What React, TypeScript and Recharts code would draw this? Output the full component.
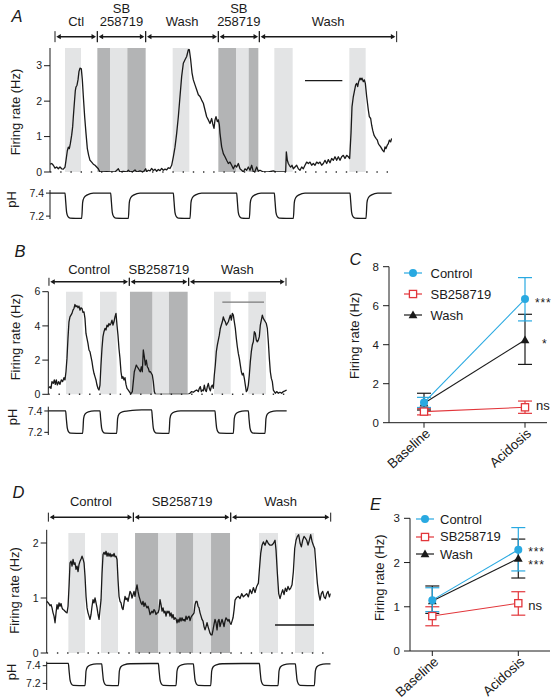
import React from 'react';
import {
  LineChart, Line, XAxis, YAxis, ReferenceArea, ReferenceLine, ErrorBar, LabelList, Legend, Label,
} from 'recharts';

const FONT = '"Liberation Sans", Arial, Helvetica, sans-serif';
const INK = '#1a1a1a';
const LIGHT = '#e3e4e5';
const DARK = '#b3b4b5';
const BLUE = '#29a9e1';
const RED = '#e2363b';

// ---------- Panel A (time in s, firing rate in Hz) ----------
const aRate: [number, number][] = [
  [0,0.22],[5,0.24],[10,0.19],[15,0.11],[20,0.14],[25,0.09],[30,0.14],[35,0.09],[40,0.08],[45,0.14],
  [48,0.33],[52,0.6],[55,0.7],[58,0.66],[61,0.8],[65,1.04],[68,1.28],[70,1.56],[73,1.94],[76,2.3],[78,2.4],[81,2.45],[84,2.6],[87,2.84],[90,2.93],[94,2.91],[97,2.6],[100,2.13],[104,1.56],[108,1.09],[112,0.66],[116,0.47],[120,0.33],[125,0.28],[130,0.22],[135,0.19],[140,0.14],[145,0.09],[148,0.03],[150,0],
  [160,0],[170,0.01],[180,0],[195,0],[205,0.09],[210,0],[220,0.02],[230,0],[235,0.05],[240,0],[250,0.02],[255,0.06],[260,0],[270,0.03],[280,0],[287,0.09],[290,0.01],
  [295,0.05],[300,0.03],[305,0.1],[310,0.04],[315,0.08],[320,0.02],[325,0.07],[330,0.04],[335,0.1],[340,0.05],[345,0.08],[350,0.06],[355,0.12],[360,0.1],
  [365,0.19],[370,0.43],[375,0.7],[380,1.09],[385,1.56],[390,2.13],[395,2.7],[400,3.07],[405,3.17],[410,3.26],[415,3.45],[418,3.45],[422,3.17],[426,2.8],[430,2.6],[435,2.46],[440,2.32],[445,2.18],[450,2.13],[455,2.03],[460,1.94],[465,1.75],[470,1.56],[475,1.47],[480,1.37],[485,1.51],[488,1.37],[492,1.23],[495,1.47],[498,1.56],[502,1.42],[505,1.47],[508,1.33],[510,1.09],[515,0.71],[520,0.52],[525,0.43],[530,0.33],[535,0.24],[540,0.28],[545,0.19],[550,0.09],[555,0.19],[560,0.14],[565,0.24],[570,0.09],[575,0.05],[580,0],[585,0.09],[590,0.05],[595,0.14],[600,0.05],[605,0.19],[610,0],[615,0.02],[620,0.14],[625,0.02],[630,0.05],
  [640,0],[655,0],[670,0.03],[680,0],[707,0],[709,0.57],[712,0.33],[715,0.24],[718,0.19],[722,0.14],[726,0.19],[730,0.09],[735,0.14],[740,0.19],[745,0.09],[750,0.05],[755,0.14],[760,0.09],[765,0.19],[770,0.28],[775,0.24],[780,0.28],[785,0.19],[790,0.24],[795,0.19],[800,0.28],[805,0.24],[810,0.28],[815,0.19],[820,0.24],[825,0.33],[830,0.24],[835,0.35],[840,0.26],[845,0.38],[850,0.33],[855,0.43],[860,0.33],[865,0.43],[870,0.33],[875,0.43],[880,0.47],[885,0.38],[890,0.47],[895,0.43],[899,0.38],
  [903,1.09],[906,1.84],[910,2.13],[913,2.27],[917,2.46],[920,2.5],[923,2.41],[926,2.55],[930,2.65],[933,2.6],[936,2.65],[940,2.55],[943,2.6],[946,2.5],[950,2.13],[955,1.75],[958,1.56],[962,1.51],[965,1.32],[968,1.18],[972,1.04],[975,0.99],[978,0.95],[982,0.9],[985,0.8],[988,0.76],[992,0.71],[995,0.66],[998,0.61],[1002,0.57],[1005,0.71],[1008,0.66],[1012,0.76],[1015,0.8],[1018,0.9],[1022,0.85],[1025,0.95],
];
const aPH: [number, number][] = [
  [0,7.40],[45,7.40],[47,7.33],[50,7.23],[54,7.195],[60,7.183],[95,7.18],[98,7.32],[102,7.36],[112,7.385],[130,7.40],
  [182,7.40],[184,7.33],[187,7.23],[191,7.195],[197,7.183],[235,7.18],[238,7.32],[242,7.36],[252,7.385],[270,7.40],
  [370,7.40],[372,7.33],[375,7.23],[379,7.195],[385,7.183],[420,7.18],[423,7.32],[427,7.36],[437,7.385],[455,7.40],
  [560,7.40],[562,7.33],[565,7.23],[569,7.195],[575,7.183],[598,7.18],[601,7.32],[605,7.36],[615,7.385],[633,7.40],
  [673,7.40],[675,7.33],[678,7.23],[682,7.195],[688,7.183],[730,7.18],[733,7.32],[737,7.36],[747,7.385],[765,7.40],
  [900,7.40],[902,7.33],[905,7.23],[909,7.195],[915,7.183],[948,7.18],[951,7.32],[955,7.36],[965,7.385],[983,7.40],[1025,7.40],
];
const aLight: [number, number][] = [[45,93],[180,232],[368,418],[558,596],[673,728],[898,947]];
const aDark: [number, number][] = [[142,180],[232,287],[505,558],[596,625]];
const aBounds = [15, 142, 287, 505, 628, 1040];
const aLabels = [['Ctl'], ['SB', '258719'], ['Wash'], ['SB', '258719'], ['Wash']];
const aScaleBar = [765, 877];

// ---------- Panel B ----------
const bRate: [number, number][] = [
  [0,0.35],[5,0.45],[8,0.35],[11,0.74],[15,0.64],[18,0.84],[21,0.58],[24,0.84],[27,0.55],[31,0.74],[35,0.58],[39,0.84],[43,0.74],[47,0.97],[50,0.84],[53,1.32],[56,2.1],[59,3.27],[62,4.24],[65,4.53],[68,4.63],[71,4.73],[74,4.92],[77,5.02],[80,5.25],[83,5.12],[86,5.18],[89,5.06],[92,5.16],[95,4.92],[98,5.06],[101,5.02],[104,4.79],[107,4.82],[110,4.44],[113,3.56],[116,3.27],[119,2.98],[122,2.59],[125,2.49],[128,2.2],[131,1.91],[134,1.52],[137,1.23],[140,1.03],[143,0.84],[146,0.54],[149,0.35],[152,0.25],
  [155,0.54],[158,1.71],[161,2.68],[164,3.37],[167,3.66],[170,3.85],[173,3.76],[176,4.05],[179,3.95],[182,4.14],[185,4.05],[188,4.14],[191,4.34],[194,4.05],[197,4.24],[200,4.53],[203,4.73],[206,4.05],[209,3.46],[212,2.68],[215,2.1],[218,1.32],[221,0.93],[224,1.03],[227,0.84],[230,0.97],[233,0.58],[236,0.35],[240,0.25],[243,0.16],[246,0.06],[249,0.06],[252,0.16],
  [255,0.74],[258,1.32],[261,1.52],[264,1.71],[267,1.61],[270,1.52],[273,1.42],[276,1.32],[279,1.61],[282,1.32],[285,2.59],[288,2.2],[291,1.71],[294,2.0],[297,1.61],[300,1.52],[303,1.32],[306,1.32],[309,1.23],[312,1.13],[315,0.74],[318,0.16],[321,0],[420,0],
  [425,0.06],[430,0.16],[435,0.12],[440,0.2],[445,0.25],[450,0.16],[453,0.35],[456,0.45],[459,0.16],[462,0.25],[465,0.2],[468,0.54],[471,0.25],[474,0.16],[477,0.45],[480,0.64],[483,0.35],[486,0.2],[489,0.45],[492,0.54],[495,0.35],
  [498,1.13],[501,1.71],[504,2.49],[507,2.88],[510,3.17],[513,3.46],[516,3.85],[519,4.05],[522,4.24],[525,4.53],[528,4.34],[531,4.24],[534,4.05],[537,4.14],[540,4.24],[543,4.44],[546,4.63],[549,4.34],[552,4.73],[555,4.63],[558,4.24],[561,3.85],[564,3.27],[567,2.78],[570,2.39],[573,2.1],[576,1.71],[579,1.32],[582,1.13],[585,1.23],[588,0.93],[591,0.54],[594,0.16],
  [597,0.25],[600,0.54],[603,1.13],[606,1.91],[609,2.49],[612,2.88],[615,3.07],[618,3.66],[621,3.56],[624,3.17],[627,3.07],[630,3.17],[633,3.37],[636,4.05],[639,4.34],[642,4.63],[645,4.44],[648,4.34],[651,4.24],[654,4.14],[657,3.85],[660,3.07],[663,2.1],[666,1.32],[669,0.93],[672,0.74],[675,0.25],[678,0.16],[681,0.06],[685,0.16],[690,0.06],[695,0.12],[700,0.06],[705,0.16],[710,0.2],[715,0.25],
];
const bPH: [number, number][] = [
  [0,7.40],[52,7.40],[54,7.33],[57,7.24],[61,7.205],[67,7.192],[103,7.19],[106,7.33],[110,7.37],[120,7.392],[138,7.40],
  [155,7.40],[157,7.33],[160,7.24],[164,7.205],[170,7.192],[205,7.19],[208,7.33],[212,7.37],[222,7.392],[240,7.40],[280,7.41],
  [310,7.41],[312,7.34],[315,7.24],[319,7.205],[325,7.192],[362,7.19],[365,7.33],[369,7.37],[379,7.392],[397,7.40],
  [500,7.40],[502,7.33],[505,7.24],[509,7.205],[515,7.192],[555,7.19],[558,7.33],[562,7.37],[572,7.392],[590,7.40],
  [600,7.40],[602,7.33],[605,7.24],[609,7.205],[615,7.192],[650,7.19],[653,7.33],[657,7.37],[667,7.392],[685,7.40],[715,7.40],
];
const bLight: [number, number][] = [[53,103],[155,205],[312,362],[497,547],[600,653]];
const bDark: [number, number][] = [[245,312],[362,418]];
const bBounds = [2, 243, 421, 713];
const bLabels = [['Control'], ['SB258719'], ['Wash']];
const bScaleBar = [522, 647];

// ---------- Panel D ----------
const dRate: [number, number][] = [
  [0,0.94],[5,0.91],[10,0.86],[13,0.88],[16,0.82],[19,0.73],[22,0.67],[25,0.55],[28,0.73],[31,0.88],[34,0.8],[37,0.91],[40,0.85],[43,0.9],[46,0.82],[49,0.79],[52,0.78],[55,0.76],[58,0.74],[61,0.73],
  [64,0.85],[67,1.21],[70,1.64],[73,1.67],[76,1.58],[79,1.7],[82,1.61],[85,1.64],[88,1.52],[91,1.58],[94,1.48],[97,1.61],[100,1.67],[103,1.71],[106,1.76],[109,1.71],[112,1.64],[115,1.39],[118,1.03],[121,0.82],[124,0.73],[127,0.67],[130,0.61],[133,0.7],[136,0.85],[139,0.97],[142,0.91],[145,1.0],[148,0.91],[151,0.82],[154,0.7],[157,0.61],[160,0.79],
  [163,0.97],[166,1.45],[169,1.79],[172,1.83],[175,1.79],[178,1.85],[181,1.76],[184,1.82],[187,1.76],[190,1.81],[193,1.75],[196,1.79],[199,1.76],[202,1.81],[205,1.75],[208,1.76],[211,1.7],[214,1.33],[217,1.03],[220,0.94],[223,0.91],[226,0.82],[229,0.79],[232,0.91],[235,1.03],[238,0.97],[241,1.0],[244,0.94],[247,1.03],[250,1.12],[253,1.09],[256,1.0],[259,1.06],[262,1.12],[265,1.03],[268,1.15],[271,1.24],[274,1.12],[277,1.03],[280,0.97],[283,0.91],[286,0.88],[289,0.94],[292,0.85],[295,0.91],[298,0.86],[301,0.82],[304,0.85],[307,0.79],[310,0.7],[313,0.73],[316,0.76],[319,0.73],[322,0.79],[325,0.76],[328,0.7],[331,0.73],[334,0.73],[337,0.79],[340,0.97],[343,0.88],[346,0.76],[349,0.82],[352,0.73],[355,0.76],[358,0.67],[361,0.76],[364,0.73],[367,0.76],[370,0.67],[373,0.73],[376,0.64],[379,0.7],[382,0.61],[385,0.64],[388,0.62],[391,0.55],[394,0.61],[397,0.56],[400,0.64],[403,0.58],[406,0.64],[409,0.59],[412,0.61],[415,0.58],[418,0.67],[421,0.61],[424,0.65],[427,0.67],[430,0.59],[433,0.65],[436,0.68],[439,0.7],[442,0.73],[445,0.88],[448,0.94],[451,0.94],[454,0.85],[457,0.82],[460,0.73],[463,0.67],[466,0.61],[469,0.58],[472,0.48],[475,0.42],[478,0.48],[481,0.55],[484,0.48],[487,0.42],[490,0.36],[493,0.33],[496,0.33],[499,0.42],[502,0.52],[505,0.61],[508,0.55],[511,0.42],[514,0.58],[517,0.61],[520,0.48],[523,0.55],[526,0.61],[529,0.55],[532,0.48],[535,0.58],[538,0.64],[541,0.61],[544,0.58],[547,0.61],[550,0.55],[553,0.52],[556,0.58],[559,0.64],
  [562,0.78],[565,0.96],[570,1.01],[575,1.03],[580,0.99],[585,1.08],[590,1.02],[595,1.05],[600,1.08],[605,1.02],[610,1.15],[615,1.08],[620,1.19],[625,1.1],[630,1.21],[635,1.27],[638,1.51],[642,1.81],[646,1.96],[650,2.02],[655,1.96],[660,2.05],[665,1.99],[670,1.96],[675,1.96],[680,1.99],[685,2.05],[688,1.87],[692,1.45],[696,1.08],[700,0.99],[704,1.08],[708,1.15],[712,1.06],[716,1.18],[720,1.12],[724,1.21],[728,1.15],[732,1.18],[736,1.24],[740,1.48],[744,1.9],[748,2.05],[752,2.12],[756,2.15],[760,2.0],[764,1.93],[768,2.05],[772,2.12],[776,2.09],[780,2.05],[784,1.96],[788,2.05],[792,2.15],[796,2.03],[800,1.96],[804,1.9],[808,1.57],[812,1.27],[816,1.08],[820,0.96],[824,1.08],[828,1.12],[832,1.02],[836,0.99],[840,1.08],[844,1.12],[848,1.02],[852,1.08],
];
const dPH: [number, number][] = [
  [0,7.425],[65,7.425],[67,7.35],[70,7.24],[74,7.195],[80,7.178],[115,7.175],[118,7.34],[122,7.385],[132,7.41],[150,7.42],[165,7.42],
  [167,7.35],[170,7.24],[174,7.195],[180,7.178],[215,7.175],[218,7.34],[222,7.385],[232,7.41],[250,7.422],[335,7.425],
  [337,7.35],[340,7.24],[344,7.195],[350,7.178],[388,7.175],[391,7.34],[395,7.385],[405,7.41],[423,7.42],[440,7.42],
  [442,7.35],[445,7.24],[449,7.195],[455,7.178],[492,7.175],[495,7.34],[499,7.385],[509,7.41],[527,7.422],[638,7.425],
  [640,7.35],[643,7.24],[647,7.195],[653,7.178],[694,7.175],[697,7.34],[701,7.385],[711,7.41],[729,7.42],[746,7.42],
  [748,7.35],[751,7.24],[755,7.195],[761,7.178],[803,7.175],[806,7.34],[810,7.385],[820,7.41],[838,7.42],[852,7.42],
];
const dLight: [number, number][] = [[65,115],[163,214],[334,388],[439,493],[637,694],[745,802]];
const dDark: [number, number][] = [[265,334],[388,439],[493,550]];
const dBounds = [5, 260, 552, 852];
const dLabels = [['Control'], ['SB258719'], ['Wash']];
const dScaleBar = [685, 802];

// ---------- Panels C and E (mean, [minus, plus] SEM) ----------
const categories = ['Baseline', 'Acidosis'];
const seriesNames = ['Control', 'SB258719', 'Wash'];
const cControl = [1.03, 6.34];
const cControlErr = [[0.25, 0.27], [1.12, 1.1]];
const cSB = [0.57, 0.79];
const cSBErr = [[0.17, 0.15], [0.31, 0.32]];
const cWash = [1.0, 4.24];
const cWashErr = [[0.35, 0.51], [1.25, 1.32]];
const cControlSig = ['', '***'];
const cSBSig = ['', 'ns'];
const cWashSig = ['', '*'];

const eControl = [1.15, 2.29];
const eControlErr = [[0.26, 0.28], [0.48, 0.5]];
const eSB = [0.79, 1.08];
const eSBErr = [[0.22, 0.21], [0.27, 0.26]];
const eWash = [1.13, 2.09];
const eWashErr = [[0.28, 0.34], [0.44, 0.44]];
const eControlSig = ['', '***'];
const eSBSig = ['', 'ns'];
const eWashSig = ['', '***'];

// ---------- helpers ----------
const toRows = (pairs: [number, number][]) => pairs.map(([t, v]) => ({ t, v }));

const vTitle = (text: string, cx: number, dy: number) => (props: any) => {
  const vb = props.viewBox || { x: 0, y: 0, width: 0, height: 0 };
  const x = vb.x + cx;
  const y = vb.y + vb.height / 2 + dy;
  return (
    <text x={x} y={y} transform={`rotate(-90 ${x} ${y})`} textAnchor="middle" dominantBaseline="central"
      fontSize={13} fontFamily={FONT} fill={INK}>{text}</text>
  );
};

const makeBracket = (lines: string[], gap: number, tickH: number) => (p: any) => {
  const { x1, x2, y1 } = p;
  if (x1 == null || x2 == null) return <g />;
  const y = y1;
  const cx = (x1 + x2) / 2;
  const a = 4.5, w = 2.6, inset = 1.3;
  return (
    <g>
      <line x1={x1 + inset + 2} x2={x2 - inset - 2} y1={y} y2={y} stroke={INK} strokeWidth={1.5} />
      <path d={`M${x1 + inset},${y}L${x1 + inset + a},${y - w}L${x1 + inset + a},${y + w}Z M${x2 - inset},${y}L${x2 - inset - a},${y - w}L${x2 - inset - a},${y + w}Z`} fill={INK} />
      <line x1={x1} x2={x1} y1={y - tickH / 2} y2={y + tickH / 2} stroke={INK} strokeWidth={1} />
      <line x1={x2} x2={x2} y1={y - tickH / 2} y2={y + tickH / 2} stroke={INK} strokeWidth={1} />
      {lines.map((s, i) => (
        <text key={i} x={cx} y={y - gap - (lines.length - 1 - i) * 13.5} textAnchor="middle"
          fontSize={13} fontFamily={FONT} fill={INK}>{s}</text>
      ))}
    </g>
  );
};

type TraceProps = {
  left: number; top: number; width: number; height: number;
  margin: { top: number; right: number; bottom: number; left: number };
  yWidth: number; xMax: number; yMax: number; yTicks: number[];
  rate: [number, number][]; light: [number, number][]; dark: [number, number][]; shadeTop: number;
  bounds: number[]; labels: string[][]; bracketY: number; labelGap: number; tickH: number;
  scaleBar: number[]; scaleY: number; scaleColor: string; titleDx: number; titleDy: number;
};

const TracePanel = (p: TraceProps) => (
  <div style={{ position: 'absolute', left: p.left, top: p.top }}>
    <LineChart width={p.width} height={p.height} data={toRows(p.rate)} margin={p.margin}>
      <XAxis type="number" dataKey="t" domain={[0, p.xMax]} hide allowDataOverflow />
      <YAxis type="number" domain={[0, p.yMax]} ticks={p.yTicks} interval={0} width={p.yWidth} allowDataOverflow
        tick={{ fontSize: 10.5, fill: INK, fontFamily: FONT }} tickSize={6}
        axisLine={{ stroke: INK }} tickLine={{ stroke: INK }}>
        <Label content={vTitle('Firing rate (Hz)', p.titleDx, p.titleDy)} />
      </YAxis>
      {p.light.map(([x1, x2], i) => (
        <ReferenceArea key={`l${i}`} x1={x1} x2={x2} y1={0} y2={p.shadeTop} fill={LIGHT} fillOpacity={1} stroke="none" ifOverflow="visible" />
      ))}
      {p.dark.map(([x1, x2], i) => (
        <ReferenceArea key={`d${i}`} x1={x1} x2={x2} y1={0} y2={p.shadeTop} fill={DARK} fillOpacity={1} stroke="none" ifOverflow="visible" />
      ))}
      <ReferenceLine y={0} stroke="#333" strokeWidth={1.6} strokeDasharray="1.4 8.8" />
      {p.labels.map((lab, i) => (
        <ReferenceLine key={`b${i}`} ifOverflow="visible"
          segment={[{ x: p.bounds[i], y: p.bracketY }, { x: p.bounds[i + 1], y: p.bracketY }]}
          shape={makeBracket(lab, p.labelGap, p.tickH)} />
      ))}
      <ReferenceLine ifOverflow="visible" stroke={p.scaleColor} strokeWidth={1.4}
        segment={[{ x: p.scaleBar[0], y: p.scaleY }, { x: p.scaleBar[1], y: p.scaleY }]} />
      <Line type="linear" dataKey="v" stroke={INK} strokeWidth={1.3} dot={false} isAnimationActive={false} strokeLinejoin="round" />
    </LineChart>
  </div>
);

type PHProps = {
  left: number; top: number; width: number; height: number;
  margin: { top: number; right: number; bottom: number; left: number };
  yWidth: number; xMax: number; domain: [number, number]; data: [number, number][]; titleDx: number; titleDy: number;
};

const PHPanel = (p: PHProps) => (
  <div style={{ position: 'absolute', left: p.left, top: p.top }}>
    <LineChart width={p.width} height={p.height} data={toRows(p.data)} margin={p.margin}>
      <XAxis type="number" dataKey="t" domain={[0, p.xMax]} hide allowDataOverflow />
      <YAxis type="number" domain={p.domain} ticks={[7.2, 7.4]} interval={0} width={p.yWidth} allowDataOverflow
        tickFormatter={(v: number) => v.toFixed(1)}
        tick={{ fontSize: 10.5, fill: INK, fontFamily: FONT }} tickSize={4}
        axisLine={{ stroke: INK }} tickLine={{ stroke: INK }}>
        <Label content={vTitle('pH', p.titleDx, p.titleDy)} />
      </YAxis>
      <Line type="monotone" dataKey="v" stroke={INK} strokeWidth={1.3} dot={false} isAnimationActive={false} />
    </LineChart>
  </div>
);

const marker = (i: number, cx: number, cy: number, key?: string) => {
  if (i === 0) return <circle key={key} cx={cx} cy={cy} r={4} fill={BLUE} />;
  if (i === 1) return <rect key={key} x={cx - 3.6} y={cy - 3.6} width={7.2} height={7.2} fill="#fff" stroke={RED} strokeWidth={1.3} />;
  return <path key={key} d={`M${cx},${cy - 4.6}L${cx + 4.4},${cy + 3.2}L${cx - 4.4},${cy + 3.2}Z`} fill={INK} />;
};
const seriesColors = [BLUE, RED, INK];

const dotFn = (i: number) => (p: any) => marker(i, p.cx, p.cy, `m${i}-${p.index}`);

const makeLegend = (rowH: number, gap: number) => () => (
  <div style={{ fontFamily: FONT, fontSize: 13, color: INK }}>
    {seriesNames.map((n, i) => (
      <div key={n} style={{ display: 'flex', alignItems: 'center', height: rowH }}>
        <svg width={18} height={12} style={{ overflow: 'visible' }}>
          <line x1={0} x2={18} y1={6} y2={6} stroke={seriesColors[i]} strokeWidth={1.2} />
          {marker(i, 9, 6)}
        </svg>
        <span style={{ marginLeft: gap }}>{n}</span>
      </div>
    ))}
  </div>
);

const sigLabel = (dx: number, dy: number) => (p: any) => {
  if (!p.value) return null;
  const x = (p.x ?? p.viewBox?.x) + dx;
  const y = (p.y ?? p.viewBox?.y) + dy;
  const txt = String(p.value);
  const star = txt.includes('*');
  return (
    <text x={x} y={y + (star ? 7.5 : 4.5)} fontSize={star ? 12 : 13} letterSpacing={star ? 0.8 : 0}
      fontFamily={FONT} fill={INK}>{txt}</text>
  );
};

const CatTick = (p: any) => {
  const { x, y, payload } = p;
  const tx = x + 7, ty = y + 5;
  return (
    <text x={tx} y={ty} textAnchor="end" transform={`rotate(-42 ${tx} ${ty})`} fontSize={13.5}
      fontFamily={FONT} fill={INK}>{payload.value}</text>
  );
};

type SumProps = {
  left: number; top: number; width: number; height: number;
  margin: { top: number; right: number; bottom: number; left: number };
  yWidth: number; xHeight: number; pad: { left: number; right: number };
  yMax: number; yTicks: number[];
  ctrl: number[]; ctrlErr: number[][]; sb: number[]; sbErr: number[][]; wash: number[]; washErr: number[][];
  ctrlSig: string[]; sbSig: string[]; washSig: string[];
  titleDx: number; titleDy: number; legendPos: { left: number; top: number }; rowH: number; legendGap: number;
  sigDx: number[]; sigDy: number[];
};

const SummaryPanel = (p: SumProps) => {
  const rows = categories.map((c, i) => ({
    cond: c, ctrl: p.ctrl[i], ctrlErr: p.ctrlErr[i], sb: p.sb[i], sbErr: p.sbErr[i],
    wash: p.wash[i], washErr: p.washErr[i], ctrlSig: p.ctrlSig[i], sbSig: p.sbSig[i], washSig: p.washSig[i],
  }));
  return (
    <div style={{ position: 'absolute', left: p.left, top: p.top }}>
      <LineChart width={p.width} height={p.height} data={rows} margin={p.margin}>
        <XAxis dataKey="cond" type="category" padding={p.pad} height={p.xHeight} interval={0}
          tick={<CatTick />} tickSize={5} axisLine={{ stroke: INK }} tickLine={{ stroke: INK }} />
        <YAxis type="number" domain={[0, p.yMax]} ticks={p.yTicks} interval={0} width={p.yWidth}
          tick={{ fontSize: 11.5, fill: INK, fontFamily: FONT }} tickSize={6} tickMargin={4}
          axisLine={{ stroke: INK }} tickLine={{ stroke: INK }} allowDataOverflow>
          <Label content={vTitle('Firing rate (Hz)', p.titleDx, p.titleDy)} />
        </YAxis>
        <Legend layout="vertical" align="center" verticalAlign="middle" content={makeLegend(p.rowH, p.legendGap)}
          wrapperStyle={{ left: p.legendPos.left, top: p.legendPos.top, width: 'auto' }} />
        <Line type="linear" dataKey="sb" stroke={RED} strokeWidth={1.1} dot={dotFn(1)} isAnimationActive={false}>
          <ErrorBar dataKey="sbErr" width={7} stroke={RED} strokeWidth={1.2} direction="y" />
          <LabelList dataKey="sbSig" content={sigLabel(p.sigDx[1], p.sigDy[1])} />
        </Line>
        <Line type="linear" dataKey="wash" stroke={INK} strokeWidth={1.1} dot={dotFn(2)} isAnimationActive={false}>
          <ErrorBar dataKey="washErr" width={7} stroke={INK} strokeWidth={1.2} direction="y" />
          <LabelList dataKey="washSig" content={sigLabel(p.sigDx[2], p.sigDy[2])} />
        </Line>
        <Line type="linear" dataKey="ctrl" stroke={BLUE} strokeWidth={1.1} dot={dotFn(0)} isAnimationActive={false}>
          <ErrorBar dataKey="ctrlErr" width={7} stroke={BLUE} strokeWidth={1.2} direction="y" />
          <LabelList dataKey="ctrlSig" content={sigLabel(p.sigDx[0], p.sigDy[0])} />
        </Line>
      </LineChart>
    </div>
  );
};

const panelLetters = [
  { t: 'A', x: 11.5, y: 21.7 },
  { t: 'B', x: 14.5, y: 256.7 },
  { t: 'C', x: 349.5, y: 265 },
  { t: 'D', x: 12.5, y: 498 },
  { t: 'E', x: 370, y: 510 },
];

export default function App() {
  return (
    <div style={{ position: 'absolute', left: 0, top: 0, width: 552, height: 700, background: '#fff', fontFamily: FONT, overflow: 'hidden' }}>
      <TracePanel left={0} top={0} width={400} height={180} margin={{ top: 48, right: 8, bottom: 8, left: 0 }}
        yWidth={50} xMax={1026} yMax={3.5} yTicks={[0, 1, 2, 3]} rate={aRate} light={aLight} dark={aDark} shadeTop={3.5}
        bounds={aBounds} labels={aLabels} bracketY={3.82} labelGap={10.5} tickH={11}
        scaleBar={aScaleBar} scaleY={2.58} scaleColor={INK} titleDx={15} titleDy={2} />
      <PHPanel left={0} top={180} width={400} height={44} margin={{ top: 10, right: 8, bottom: 5, left: 0 }}
        yWidth={50} xMax={1026} domain={[7.175, 7.427]} data={aPH} titleDx={11.5} titleDy={-5} />

      <TracePanel left={0} top={240} width={295} height={160} margin={{ top: 51.7, right: 8, bottom: 5.7, left: 0 }}
        yWidth={48.3} xMax={716} yMax={6} yTicks={[0, 2, 4, 6]} rate={bRate} light={bLight} dark={bDark} shadeTop={6}
        bounds={bBounds} labels={bLabels} bracketY={6.58} labelGap={7.7} tickH={8}
        scaleBar={bScaleBar} scaleY={5.39} scaleColor="#7a7a7a" titleDx={15} titleDy={-6} />
      <PHPanel left={0} top={400} width={295} height={40} margin={{ top: 6.7, right: 8, bottom: 5, left: 0 }}
        yWidth={48.3} xMax={716} domain={[7.175, 7.44]} data={bPH} titleDx={13} titleDy={-4} />

      <TracePanel left={0} top={470} width={339} height={191} margin={{ top: 59.8, right: 8.3, bottom: 8, left: 0 }}
        yWidth={46.7} xMax={852} yMax={2.24} yTicks={[0, 1, 2]} rate={dRate} light={dLight} dark={dDark} shadeTop={2.18}
        bounds={dBounds} labels={dLabels} bracketY={2.47} labelGap={11} tickH={9}
        scaleBar={dScaleBar} scaleY={0.51} scaleColor={INK} titleDx={15} titleDy={-1} />
      <PHPanel left={0} top={653} width={339} height={42} margin={{ top: 8.7, right: 8.3, bottom: 5, left: 0 }}
        yWidth={46.7} xMax={852} domain={[7.125, 7.445]} data={dPH} titleDx={12} titleDy={-4} />

      <SummaryPanel left={340} top={240} width={212} height={233} margin={{ top: 26.7, right: 5, bottom: 0, left: 0 }}
        yWidth={49} xHeight={50.3} pad={{ left: 35, right: 22 }} yMax={8} yTicks={[0, 2, 4, 6, 8]}
        ctrl={cControl} ctrlErr={cControlErr} sb={cSB} sbErr={cSBErr} wash={cWash} washErr={cWashErr}
        ctrlSig={cControlSig} sbSig={cSBSig} washSig={cWashSig}
        titleDx={15} titleDy={-9} legendPos={{ left: 64, top: 22.8 }} rowH={21} legendGap={8.5}
        sigDx={[10, 11, 17]} sigDy={[0, -2, 0]} />

      <SummaryPanel left={340} top={495} width={212} height={205} margin={{ top: 23.3, right: 2, bottom: 0, left: 0 }}
        yWidth={70} xHeight={49} pad={{ left: 22.3, right: 31.7 }} yMax={3} yTicks={[0, 1, 2, 3]}
        ctrl={eControl} ctrlErr={eControlErr} sb={eSB} sbErr={eSBErr} wash={eWash} washErr={eWashErr}
        ctrlSig={eControlSig} sbSig={eSBSig} washSig={eWashSig}
        titleDx={40} titleDy={-7} legendPos={{ left: 76, top: 15.3 }} rowH={17.5} legendGap={6}
        sigDx={[10, 10, 10]} sigDy={[-1.5, 2, 3]} />

      <svg width={552} height={700} style={{ position: 'absolute', left: 0, top: 0, pointerEvents: 'none' }}>
        {panelLetters.map((l) => (
          <text key={l.t} x={l.x} y={l.y} fontSize={16.5} fontStyle="italic" fontFamily={FONT} fill={INK}>{l.t}</text>
        ))}
      </svg>
    </div>
  );
}
